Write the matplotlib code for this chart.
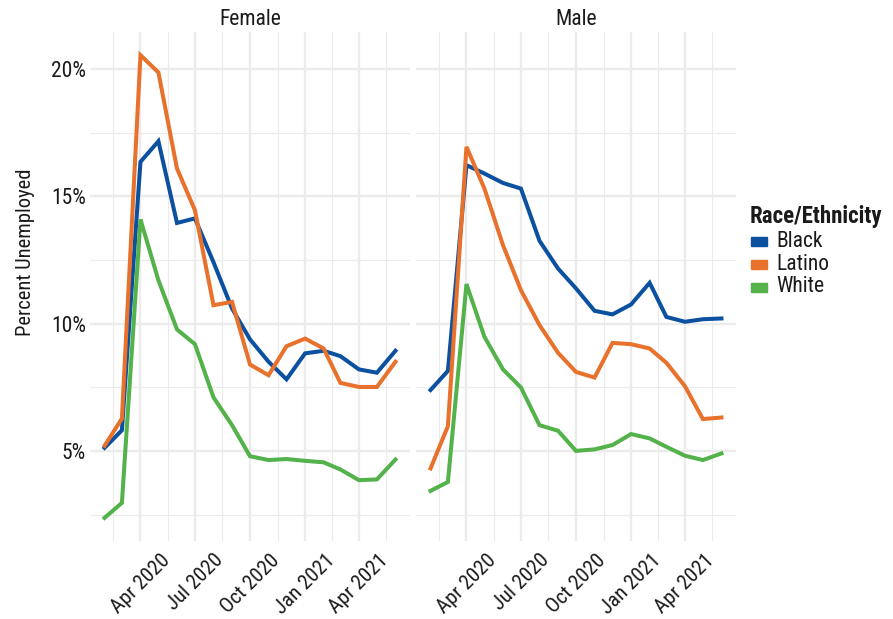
import matplotlib
matplotlib.use("Agg")
import matplotlib.pyplot as plt
from matplotlib import font_manager
import matplotlib.patches as mpatches
import pandas as pd
import numpy as np

months = pd.date_range("2020-02-01", "2021-06-01", freq="MS")

female_black = [5.13, 5.82, 16.36, 17.17, 13.96, 14.14, 12.42, 10.60, 9.39, 8.51, 7.82, 8.84, 8.94, 8.73, 8.21, 8.08, 8.94]
female_latino = [5.21, 6.28, 20.55, 19.87, 16.10, 14.46, 10.73, 10.86, 8.40, 7.98, 9.12, 9.42, 9.03, 7.68, 7.52, 7.52, 8.51]
female_white = [2.38, 2.97, 14.10, 11.71, 9.78, 9.20, 7.11, 6.02, 4.80, 4.65, 4.69, 4.62, 4.56, 4.28, 3.86, 3.89, 4.67]

male_black = [7.40, 8.15, 16.23, 15.90, 15.53, 15.31, 13.26, 12.17, 11.39, 10.51, 10.37, 10.76, 11.61, 10.27, 10.08, 10.18, 10.21]
male_latino = [4.32, 5.98, 16.95, 15.31, 13.09, 11.32, 9.95, 8.86, 8.11, 7.89, 9.25, 9.20, 9.03, 8.47, 7.55, 6.26, 6.32]
male_white = [3.44, 3.79, 11.56, 9.49, 8.21, 7.50, 6.02, 5.80, 5.01, 5.07, 5.24, 5.67, 5.50, 5.17, 4.82, 4.65, 4.91]

groups = ["Black", "Latino", "White"]
colors = ["#0C50A0", "#E8712C", "#53B24A"]
panels = ["Female", "Male"]
y_ticks = [5, 10, 15, 20]
y_tick_labels = ["5%", "10%", "15%", "20%"]
x_ticks = ["2020-04-01", "2020-07-01", "2020-10-01", "2021-01-01", "2021-04-01"]
x_tick_labels = ["Apr 2020", "Jul 2020", "Oct 2020", "Jan 2021", "Apr 2021"]

data = {
    "Female": [female_black, female_latino, female_white],
    "Male": [male_black, male_latino, male_white],
}

def pick_font():
    for name in ["Liberation Sans Narrow", "Roboto Condensed", "Liberation Sans"]:
        try:
            font_manager.findfont(name, fallback_to_default=False)
            return name
        except Exception:
            continue
    return "DejaVu Sans"

FONT = pick_font()
plt.rcParams["font.family"] = [FONT, "DejaVu Sans"]

W, H = 893, 619
fig = plt.figure(figsize=(W / 100, H / 100), dpi=100)

grid_c = "#EBEBEB"
txt_c = "#1A1A1A"
xt = pd.to_datetime(x_ticks)
minor_x = [xt[0] - (xt[1] - xt[0]) / 2] + [xt[i] + (xt[i + 1] - xt[i]) / 2 for i in range(len(xt) - 1)] + [xt[-1] + (xt[-1] - xt[-2]) / 2]
minor_y = [2.5, 7.5, 12.5, 17.5]

span = months[-1] - months[0]
xlim = (months[0] - span * 0.05, months[-1] + span * 0.05)
allv = np.concatenate([np.array(v) for k in data for v in data[k]])
yr = allv.max() - allv.min()
ylim = (allv.min() - 0.05 * yr, allv.max() + 0.05 * yr)

lefts = [90, 416]
pw = 320
top, bottom = 32, 541
for i, p in enumerate(panels):
    ax = fig.add_axes([lefts[i] / W, 1 - bottom / H, pw / W, (bottom - top) / H])
    ax.set_xlim(xlim)
    ax.set_ylim(ylim)
    for s in ax.spines.values():
        s.set_visible(False)
    ax.set_xticks(xt)
    ax.set_xticks(minor_x, minor=True)
    ax.set_yticks(y_ticks)
    ax.set_yticks(minor_y, minor=True)
    ax.grid(True, which="major", color=grid_c, linewidth=1.7, zorder=0)
    ax.grid(True, which="minor", color=grid_c, linewidth=0.85, zorder=0)
    ax.tick_params(which="both", length=0)
    ax.set_xticklabels(x_tick_labels, rotation=45, ha="center", va="top", fontsize=15, color=txt_c)
    ax.tick_params(axis="x", pad=7)
    if i == 0:
        ax.set_yticklabels(y_tick_labels, fontsize=15.5, color=txt_c)
        ax.tick_params(axis="y", pad=3)
    else:
        ax.set_yticklabels([])
    for vals, c in zip(data[p], colors):
        ax.plot(months, vals, color=c, linewidth=2.9, solid_joinstyle="miter", zorder=3)
    ax.set_title(p, fontsize=15.5, color=txt_c, pad=5)

fig.text(26 / W, 1 - 252 / H, "Percent Unemployed", rotation=90, ha="center", va="center", fontsize=14.8, color=txt_c)

# legend
fig.text(750 / W, 1 - 217 / H, "Race/Ethnicity", fontsize=16.5, fontweight="bold", va="center", ha="left", color=txt_c)
for j, (g, c) in enumerate(zip(groups, colors)):
    yc = 241 + j * 23
    fig.add_artist(mpatches.Rectangle((751 / W, 1 - (yc + 4.5) / H), 16 / W, 9 / H, color=c, transform=fig.transFigure))
    fig.text(776 / W, 1 - yc / H, g, fontsize=15.5, va="center", ha="left", color=txt_c)

fig.savefig("out.png", dpi=100)
